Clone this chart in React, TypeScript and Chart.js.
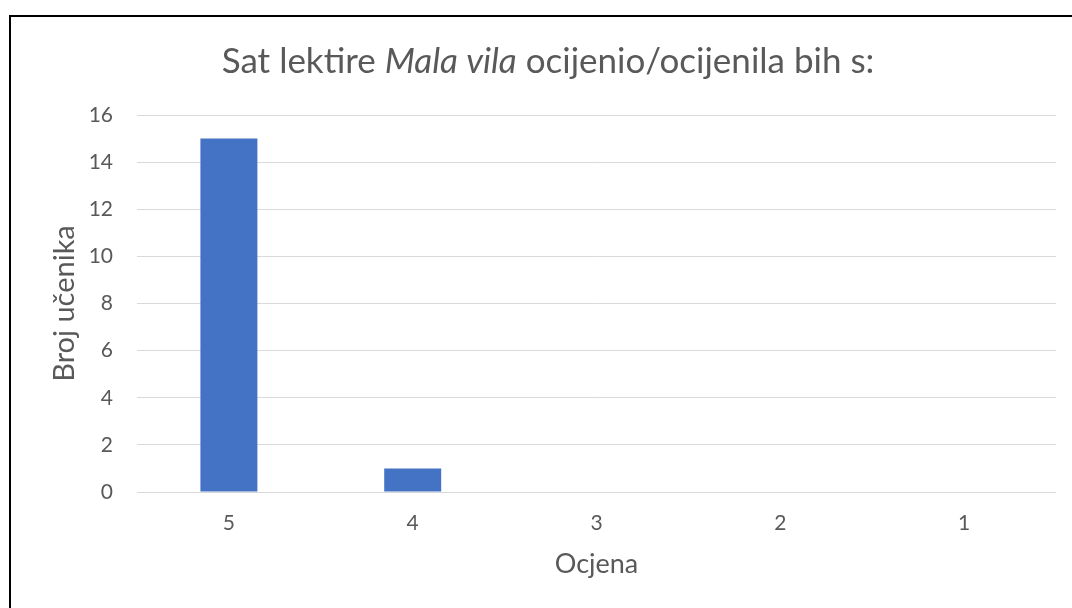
import React, { useEffect, useRef } from "react";
import { Chart, registerables } from "chart.js";

Chart.register(...registerables);

// ---- data ----
const categories = ["5", "4", "3", "2", "1"];
const values = [15, 1, 0, 0, 0];
const titleParts = [
  { text: "Sat lektire ", italic: false },
  { text: "Mala vila", italic: true },
  { text: " ocijenio/ocijenila bih s:", italic: false },
];
const yAxisTitle = "Broj učenika";
const xAxisTitle = "Ocjena";
const yMin = 0;
const yMax = 16;
const yStep = 2;

const FONT = "Lato, 'Open Sans', sans-serif";
const TEXT = "#595959";
const BAR = "#4472C4";
const GRID = "#D9D9D9";

const frameAndTitle = {
  id: "frameAndTitle",
  beforeDraw(chart: any) {
    const ctx = chart.ctx;
    ctx.save();
    ctx.fillStyle = "#ffffff";
    ctx.fillRect(0, 0, chart.width, chart.height);
    ctx.strokeStyle = "#000000";
    ctx.lineWidth = 2;
    ctx.beginPath();
    ctx.moveTo(10, chart.height + 4);
    ctx.lineTo(10, 16);
    ctx.lineTo(chart.width + 4, 16);
    ctx.stroke();
    ctx.restore();
  },
  afterDraw(chart: any) {
    const ctx = chart.ctx;
    const size = 35;
    ctx.save();
    ctx.fillStyle = TEXT;
    ctx.textBaseline = "alphabetic";
    ctx.textAlign = "left";
    const fontFor = (italic: boolean) => `${italic ? "italic " : ""}${size}px ${FONT}`;
    let total = 0;
    const widths = titleParts.map((p) => {
      ctx.font = fontFor(p.italic);
      const w = ctx.measureText(p.text).width;
      total += w;
      return w;
    });
    let x = 548 - total / 2;
    titleParts.forEach((p, i) => {
      ctx.font = fontFor(p.italic);
      ctx.fillText(p.text, x, 73);
      x += widths[i];
    });
    ctx.restore();
  },
};

export default function App() {
  const ref = useRef<HTMLCanvasElement | null>(null);
  useEffect(() => {
    if (!ref.current) return;
    const chart = new Chart(ref.current, {
      type: "bar",
      data: {
        labels: categories,
        datasets: [
          {
            data: values,
            backgroundColor: BAR,
            borderWidth: 0,
            categoryPercentage: 1,
            barPercentage: 0.31,
          },
        ],
      },
      options: {
        responsive: false,
        animation: false,
        devicePixelRatio: 1,
        layout: { padding: { top: 115, right: 16, bottom: 0, left: 0 } },
        plugins: {
          legend: { display: false },
          title: { display: false },
          tooltip: { enabled: false },
        },
        scales: {
          x: {
            grid: { display: false, drawTicks: false },
            border: { display: false },
            ticks: { color: TEXT, font: { family: FONT, size: 21 }, padding: 19 },
            title: {
              display: true,
              text: xAxisTitle,
              color: TEXT,
              font: { family: FONT, size: 27 },
              padding: { top: 0, bottom: 28 },
            },
            afterFit(scale: any) {
              scale.height = 116;
            },
          },
          y: {
            min: yMin,
            max: yMax,
            ticks: { stepSize: yStep, color: TEXT, font: { family: FONT, size: 21 }, padding: 24 },
            grid: { color: GRID, drawTicks: false, lineWidth: 1 },
            border: { display: false },
            title: {
              display: true,
              text: yAxisTitle,
              color: TEXT,
              font: { family: FONT, size: 29 },
              padding: { top: 47, bottom: 0 },
            },
            afterFit(scale: any) {
              scale.width = 137;
            },
          },
        },
      },
      plugins: [frameAndTitle],
    });
    return () => chart.destroy();
  }, []);
  return (
    <div style={{ position: "fixed", left: 0, top: 0, width: 1072, height: 608, background: "#fff" }}>
      <canvas ref={ref} width={1072} height={608} />
    </div>
  );
}
